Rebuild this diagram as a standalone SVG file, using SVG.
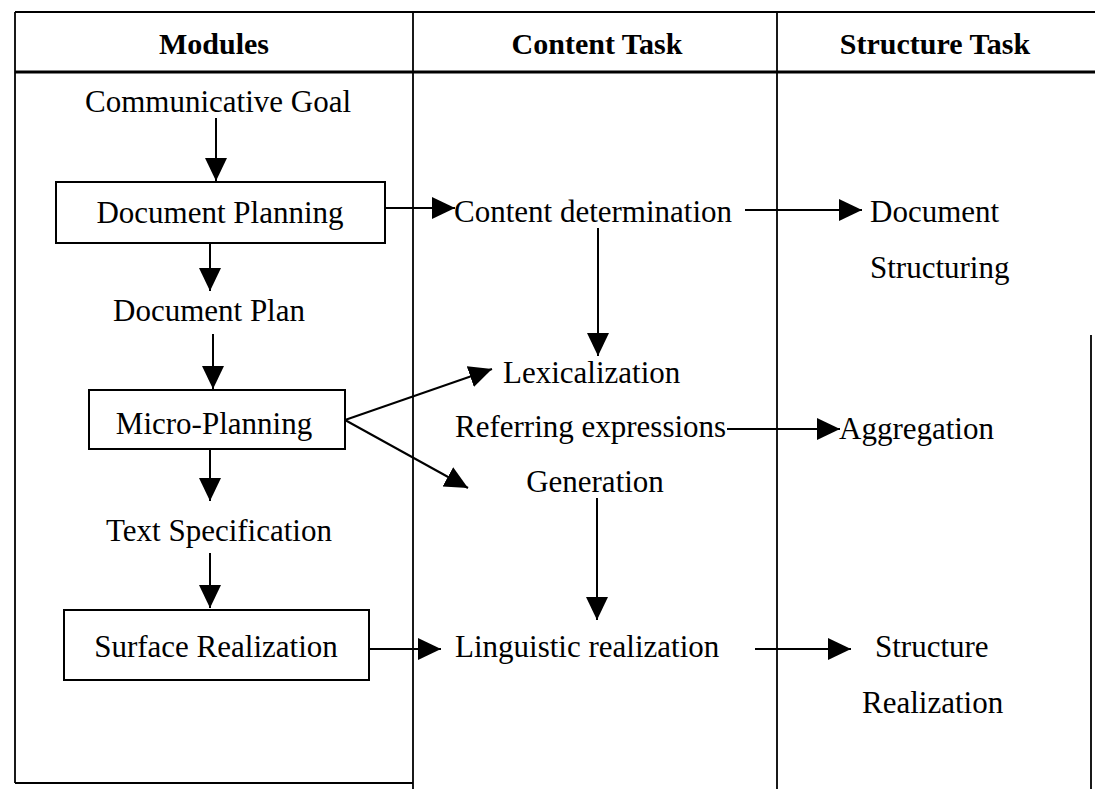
<svg xmlns="http://www.w3.org/2000/svg" width="1095" height="789" viewBox="0 0 1095 789">
<defs>
<marker id="ah" markerUnits="userSpaceOnUse" markerWidth="24" markerHeight="24" refX="23" refY="11" orient="auto">
<path d="M0,0 L23,11 L0,22 z" fill="#000"/>
</marker>
<style>
.t{font-family:"Liberation Serif","Times New Roman",serif;font-size:31px;fill:#000}
.h{font-family:"Liberation Serif","Times New Roman",serif;font-size:30px;font-weight:bold;fill:#000}
.m{text-anchor:middle}
.box{fill:#fff;stroke:#000;stroke-width:2}
.grid{stroke:#000;stroke-width:1.8;fill:none}
.c{stroke:#000;stroke-width:2;fill:none;marker-end:url(#ah)}
</style>
</defs>
<rect width="1095" height="789" fill="#fff"/>
<g id="table">
<line class="grid" x1="15" y1="12" x2="1095" y2="12"/>
<line x1="15" y1="72" x2="1095" y2="72" stroke="#000" stroke-width="3"/>
<line class="grid" x1="15" y1="12" x2="15" y2="783"/>
<line class="grid" x1="413" y1="12" x2="413" y2="789"/>
<line class="grid" x1="777" y1="12" x2="777" y2="789"/>
<line class="grid" x1="15" y1="783" x2="413" y2="783"/>
<line class="grid" x1="1091" y1="335" x2="1091" y2="789"/>
<text class="h m" x="214" y="54">Modules</text>
<text class="h m" x="597" y="54">Content Task</text>
<text class="h m" x="935" y="54">Structure Task</text>
</g>
<g id="communicative-goal"><text class="t m" x="218" y="112">Communicative Goal</text></g>
<g id="document-planning"><rect class="box" x="56" y="182" width="329" height="61"/><text class="t m" x="220" y="223">Document Planning</text></g>
<g id="document-plan"><text class="t m" x="209" y="321">Document Plan</text></g>
<g id="micro-planning"><rect class="box" x="89" y="390" width="256" height="59"/><text class="t m" x="214" y="434">Micro-Planning</text></g>
<g id="text-specification"><text class="t m" x="219" y="541">Text Specification</text></g>
<g id="surface-realization"><rect class="box" x="64" y="610" width="305" height="70"/><text class="t m" x="216" y="657">Surface Realization</text></g>
<g id="content-determination"><text class="t" x="454" y="222">Content determination</text></g>
<g id="lexicalization"><text class="t" x="503" y="383">Lexicalization</text></g>
<g id="referring-expressions"><text class="t" x="455" y="437">Referring expressions</text><text class="t m" x="595" y="492">Generation</text></g>
<g id="linguistic-realization"><text class="t" x="455" y="657">Linguistic realization</text></g>
<g id="document-structuring"><text class="t" x="870" y="222">Document</text><text class="t" x="870" y="278">Structuring</text></g>
<g id="aggregation"><text class="t" x="839" y="439">Aggregation</text></g>
<g id="structure-realization"><text class="t" x="875" y="657">Structure</text><text class="t" x="862" y="713">Realization</text></g>
<g id="connectors">
<line class="c" x1="216" y1="118" x2="216" y2="181"/>
<line class="c" x1="210" y1="243" x2="210" y2="291"/>
<line class="c" x1="213" y1="334" x2="213" y2="389"/>
<line class="c" x1="210" y1="449" x2="210" y2="501"/>
<line class="c" x1="210" y1="553" x2="210" y2="608"/>
<line class="c" x1="385" y1="208" x2="455" y2="208"/>
<line class="c" x1="745" y1="210" x2="862" y2="210"/>
<line class="c" x1="598" y1="228" x2="598" y2="356"/>
<line class="c" x1="345" y1="420" x2="492" y2="369"/>
<line class="c" x1="345" y1="420" x2="468" y2="488"/>
<line class="c" x1="727" y1="429" x2="840" y2="429"/>
<line class="c" x1="597" y1="498" x2="597" y2="620"/>
<line class="c" x1="369" y1="649" x2="441" y2="649"/>
<line class="c" x1="755" y1="649" x2="851" y2="649"/>
</g>
</svg>
